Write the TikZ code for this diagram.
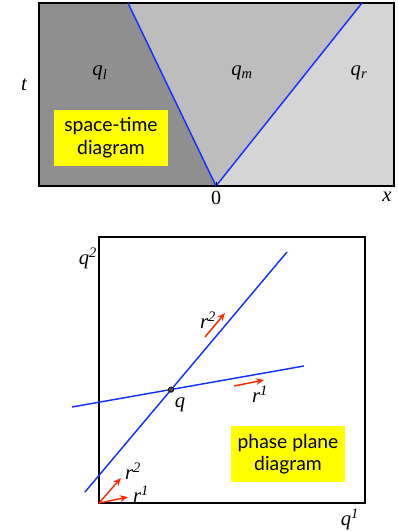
\documentclass[tikz,border=0pt]{standalone}
\usepackage{fontspec}
\setmainfont{Liberation Serif}
\setsansfont{Lato}
\usetikzlibrary{arrows.meta}
\definecolor{shadel}{RGB}{143, 143, 143}
\definecolor{shadem}{RGB}{189, 189, 189}
\definecolor{shader}{RGB}{213, 213, 213}
\definecolor{waveblue}{RGB}{20, 50, 255}
\definecolor{vecred}{RGB}{255, 40, 0}
\definecolor{boxyellow}{RGB}{255, 255, 0}

\begin{document}
\begin{tikzpicture}[
  x=0.75pt, y=-0.75pt,
  lab/.style={font=\itshape\fontsize{15.5}{17}\selectfont, inner sep=0pt},
  ybox/.style={fill=boxyellow, align=center, font=\sffamily\fontsize{14.5}{17}\selectfont, minimum width=85.5pt, minimum height=42pt, inner sep=2pt},
  wave/.style={draw=waveblue, line width=1.1pt},
  vec/.style={draw=vecred, line width=1.1pt, -{Stealth[length=6pt, width=5pt]}},
  frame/.style={draw, line width=1.5pt}
]
  \useasboundingbox (0,0) rectangle (398,531);
  \coordinate (o) at (216,186);
  \coordinate (wl) at (128,3);
  \coordinate (wr) at (362,3);
  \fill[shadel] (39,3) -- (wl) -- (o) -- (39,186) -- cycle;
  \fill[shadem] (wl) -- (wr) -- (o) -- cycle;
  \fill[shader] (wr) -- (394,3) -- (394,186) -- (o) -- cycle;
  \draw[frame] (39,3) rectangle (394,186);
  \draw[wave] (o) -- (wl);
  \draw[wave] (o) -- (wr);
  \draw[line width=0.6pt] (o) -- ++(0,-4);
  \node[lab] (t) at (24,85) {t};
  \node[lab] (ql) at (100,73) {q\textsubscript{l}};
  \node[lab] (qm) at (242,73) {q\textsubscript{m}};
  \node[lab] (qr) at (359,73) {q\textsubscript{r}};
  \node[font=\fontsize{15}{17}\selectfont, inner sep=0pt] (zero) at (216,198) {0};
  \node[lab] (x) at (387,197) {x};
  \node[ybox] (st) at (111,138) {space-time\\diagram};

  \coordinate (O) at (99,503);
  \draw[frame] (O) rectangle (365,237);
  \coordinate (a1) at (85,492);
  \coordinate (b1) at (287,252);
  \coordinate (a2) at (72,407);
  \coordinate (b2) at (304,366);
  \draw[wave] (a1) -- (b1);
  \draw[wave] (a2) -- (b2);
  \node[circle, draw, fill=black!70, inner sep=0pt, minimum size=4pt, line width=0.6pt] (q) at (171,389.6) {};
  \node[lab] (qlab) at (180,405) {q};
  \node[lab] (q2) at (88,258) {q\textsuperscript{2}};
  \node[lab] (q1) at (350,519) {q\textsuperscript{1}};
  \coordinate (s2) at (205,337);
  \coordinate (e2) at (225,313);
  \coordinate (s1) at (234,386);
  \coordinate (e1) at (264,380);
  \draw[vec] (s2) -- (e2);
  \draw[vec] (s1) -- (e1);
  \node[lab] (r2) at (208,320) {r\textsuperscript{2}};
  \node[lab] (r1) at (260,394) {r\textsuperscript{1}};
  \coordinate (f2) at (121,478);
  \coordinate (f1) at (128,497);
  \draw[vec] (O) -- (f2);
  \draw[vec] (O) -- (f1);
  \node[lab] (r2o) at (133,471) {r\textsuperscript{2}};
  \node[lab] (r1o) at (141,494) {r\textsuperscript{1}};
  \node[ybox] (pp) at (288,454) {phase plane\\diagram};
\end{tikzpicture}
\end{document}
